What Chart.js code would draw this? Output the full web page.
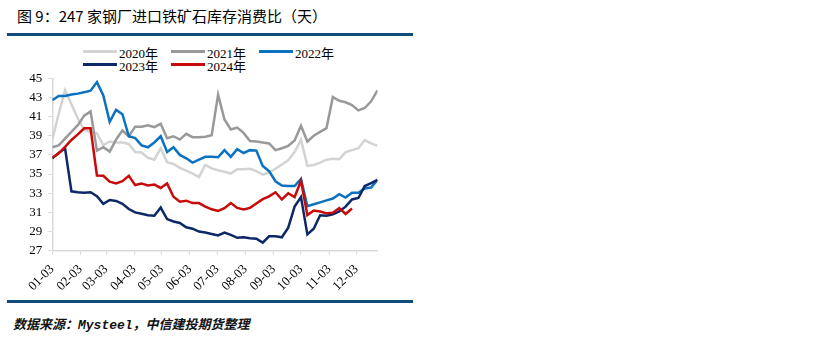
<!DOCTYPE html>
<html>
<head>
<meta charset="utf-8">
<script src="https://cdn.jsdelivr.net/npm/chart.js@4.4.1/dist/chart.umd.min.js"></script>
<style>
    body { margin: 0; background: #fff; }
    #page { position: relative; width: 813px; height: 343px; overflow: hidden; background: #fff; }
    .titulo { position: absolute; left: 17px; top: 5px; font-size: 15px; font-family: "Noto Sans CJK SC", sans-serif; color: #000; white-space: nowrap; }
    .regua { position: absolute; left: 7px; width: 406px; height: 3px; background: #114d7c; }
    .fonte { position: absolute; left: 13px; top: 314px; font-size: 13px; font-style: italic; font-weight: bold; font-family: "Liberation Mono", "Noto Sans CJK SC", monospace; color: #111; white-space: nowrap; }
    #grafico { position: absolute; left: 7px; top: 36px; }
    #legenda { position: absolute; left: 83px; top: 44px; width: 280px; }
    .item { position: absolute; height: 14px; font-size: 13px; font-family: "Liberation Serif", "Noto Sans CJK SC", serif; color: #000; white-space: nowrap; }
    .item span.linha { position: absolute; left: 0; top: 6px; width: 34px; height: 3px; }
    .item span.txt { position: absolute; left: 36px; top: -1px; }
</style>
</head>
<body>
<div id="page">
    <div class="titulo">图 9：247 家钢厂进口铁矿石库存消费比（天）</div>
    <div class="regua" style="top:33px"></div>
    <div id="legenda"></div>
    <canvas id="grafico" width="406" height="262"></canvas>
    <div class="regua" style="top:300px"></div>
    <div class="fonte">数据来源：Mysteel，中信建投期货整理</div>
</div>
<script>
// eixo x: dias desde 01-03, uma observação por semana
const tickLabels = ['01-03', '02-03', '03-03', '04-03', '05-03', '06-03', '07-03', '08-03', '09-03', '10-03', '11-03', '12-03'];
const tickDays = [0, 31, 59, 90, 120, 151, 181, 212, 243, 273, 304, 334];
const WEEK = 7;

const seriesNames = ['2020年', '2021年', '2022年', '2023年', '2024年'];
const seriesColors = ['#d3d3d3', '#999999', '#0a72c0', '#0c2866', '#c80a0a'];

const s2020 = [38.6, 41.3, 43.75, 42.3, 40.8, 39.6, 39.4, 39.25, 38.0, 38.4, 38.3, 38.3, 38.15, 37.3, 37.25, 36.7, 36.5, 37.7, 36.25, 36.05, 35.65, 35.35, 35.05, 34.7, 35.95, 35.6, 35.4, 35.25, 35.05, 35.5, 35.5, 35.55, 35.3, 34.95, 35.15, 35.55, 36.0, 36.45, 37.3, 38.6, 35.85, 35.95, 36.2, 36.5, 36.6, 36.55, 37.3, 37.5, 37.7, 38.55, 38.2, 37.95];
const s2021 = [37.8, 38.0, 38.7, 39.4, 40.1, 41.1, 41.55, 37.45, 37.8, 37.35, 38.6, 39.55, 38.95, 39.95, 39.95, 40.1, 39.9, 40.25, 38.75, 38.95, 38.6, 39.2, 38.85, 38.85, 38.9, 39.05, 43.3, 40.7, 39.65, 39.85, 39.3, 38.45, 38.4, 38.3, 38.2, 37.5, 37.7, 37.95, 38.5, 40.05, 38.4, 39.0, 39.4, 39.8, 43.05, 42.65, 42.5, 42.2, 41.65, 41.9, 42.6, 43.75];
const s2022 = [42.7, 43.15, 43.15, 43.3, 43.4, 43.55, 43.7, 44.6, 43.2, 40.45, 41.7, 41.25, 38.95, 38.75, 38.0, 37.8, 38.3, 38.95, 37.3, 37.8, 37.0, 36.65, 36.2, 36.5, 36.8, 36.8, 36.75, 37.5, 36.8, 37.6, 37.2, 37.5, 37.45, 35.85, 35.3, 34.25, 33.8, 33.75, 33.75, 34.5, 31.65, 31.85, 32.05, 32.25, 32.45, 32.9, 32.55, 33.05, 33.05, 33.5, 33.6, 34.4];
const s2023 = [36.65, 37.2, 37.7, 33.2, 33.1, 33.05, 33.1, 32.7, 31.9, 32.3, 32.2, 31.9, 31.35, 31.0, 30.85, 30.7, 30.65, 31.5, 30.3, 30.05, 29.9, 29.45, 29.3, 29.0, 28.9, 28.75, 28.6, 28.9, 28.65, 28.35, 28.4, 28.3, 28.25, 27.85, 28.5, 28.5, 28.4, 29.4, 31.6, 32.6, 28.7, 29.3, 30.7, 30.65, 30.8, 31.1, 31.6, 32.35, 32.5, 33.75, 34.05, 34.4];
const s2024 = [36.7, 37.17, 37.85, 38.56, 39.15, 39.78, 39.78, 34.85, 34.82, 34.2, 34.03, 34.25, 34.82, 33.85, 34.0, 33.82, 33.9, 33.55, 34.03, 32.64, 32.12, 32.22, 31.97, 31.97, 31.6, 31.32, 31.15, 31.43, 31.97, 31.47, 31.3, 31.47, 31.93, 32.38, 32.67, 33.1, 32.35, 33.0, 32.6, 34.3, 30.72, 31.2, 31.1, 30.9, 30.95, 31.45, 30.83, 31.4];
const allSeries = [s2020, s2021, s2022, s2023, s2024];

// legenda em HTML (3 itens na primeira linha, 2 na segunda)
const legenda = document.getElementById('legenda');
seriesNames.forEach((nome, i) => {
    const item = document.createElement('div');
    item.className = 'item';
    item.style.left = (i % 3) * 88 + 'px';
    item.style.top = Math.floor(i / 3) * 13 + 'px';
    item.innerHTML = '<span class="linha" style="background:' + seriesColors[i] + '"></span><span class="txt">' + nome + '</span>';
    legenda.appendChild(item);
});

const fonteEixo = { family: "'Liberation Serif', serif", size: 13 };

const ctx = document.getElementById('grafico').getContext('2d');
new Chart(ctx, {
    type: 'line',
    data: {
        datasets: allSeries.map((valores, i) => ({
            label: seriesNames[i],
            data: valores.map((v, k) => ({ x: k * WEEK, y: v })),
            borderColor: seriesColors[i],
            backgroundColor: seriesColors[i],
            borderWidth: 2.5,
            pointRadius: 0,
            tension: 0,
            order: allSeries.length - i
        }))
    },
    options: {
        responsive: false,
        animation: false,
        layout: { padding: { top: 42.3, right: 35.5, left: 0, bottom: 0 } },
        plugins: {
            legend: { display: false },
            tooltip: { enabled: false }
        },
        scales: {
            x: {
                type: 'linear',
                min: 0,
                max: 357,
                afterBuildTicks: (scale) => {
                    scale.ticks = tickDays.map(d => ({ value: d }));
                },
                afterFit: (scale) => { scale.height = 47.3; },
                ticks: {
                    autoSkip: false,
                    minRotation: 45,
                    maxRotation: 45,
                    padding: 7,
                    color: '#000',
                    font: fonteEixo,
                    callback: (v, i) => tickLabels[i]
                },
                grid: { drawOnChartArea: false, tickLength: 4, color: '#d9d9d9' },
                border: { color: '#d9d9d9', width: 1.5 }
            },
            y: {
                min: 27,
                max: 45,
                afterFit: (scale) => { scale.width = 45.3; },
                ticks: {
                    stepSize: 2,
                    padding: 6,
                    color: '#000',
                    font: fonteEixo
                },
                grid: { drawOnChartArea: false, tickLength: 4, color: '#d9d9d9' },
                border: { color: '#d9d9d9', width: 1.5 }
            }
        }
    }
});
</script>
</body>
</html>
